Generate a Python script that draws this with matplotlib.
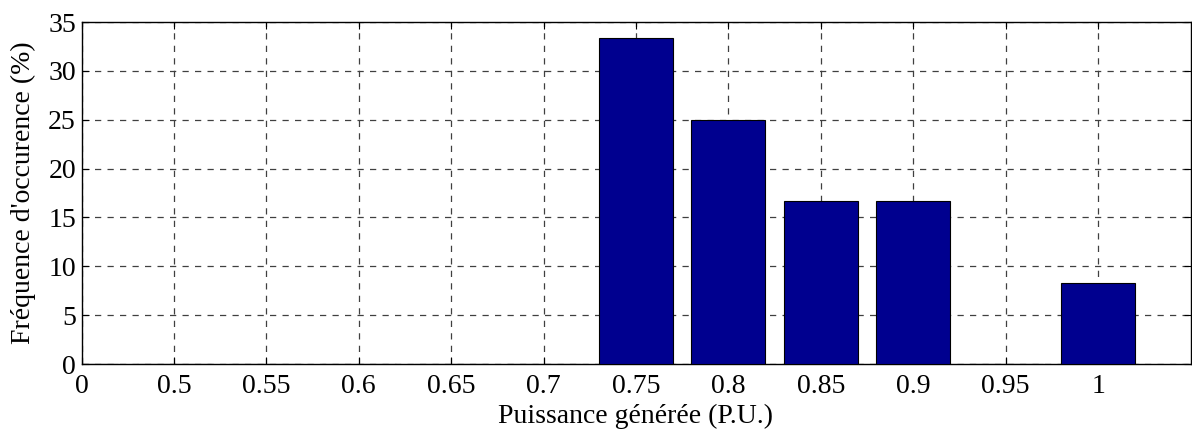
import matplotlib
matplotlib.use("Agg")
import matplotlib.pyplot as plt
import numpy as np

# Categories (tick labels) and occurrence frequency (%)
categories = ['0', '0.5', '0.55', '0.6', '0.65', '0.7', '0.75', '0.8', '0.85', '0.9', '0.95', '1']
frequency = [0, 0, 0, 0, 0, 0, 33.33, 25.0, 16.67, 16.67, 0, 8.33]

plt.rcParams['font.family'] = ['Liberation Serif', 'DejaVu Serif']
plt.rcParams['font.size'] = 20

fig = plt.figure(figsize=(11.92, 4.33), dpi=100)
ax = fig.add_axes([81.5 / 1192, (433 - 364) / 433, (1190.5 - 81.5) / 1192, (364 - 22) / 433])

pos = np.arange(len(categories))
ax.bar(pos, frequency, width=0.8, color='#00008f', edgecolor='black', linewidth=0.8, zorder=3)

ax.set_xlim(0, 12)
ax.set_ylim(0, 35)
ax.set_xticks(pos)
ax.set_xticklabels(categories)
ax.set_yticks(np.arange(0, 36, 5))

# MATLAB-like grid behind the bars
ax.grid(True, color='#404040', linestyle=(0, (5, 5)), linewidth=0.9, zorder=0)
ax.set_axisbelow(True)

ax.tick_params(direction='in', length=5, width=0.8, top=True, right=True)
ax.tick_params(axis='x', pad=7)
ax.tick_params(axis='y', pad=4)
for sp in ax.spines.values():
    sp.set_linewidth(1.0)

ax.set_xlabel('Puissance générée (P.U.)', labelpad=4)
ax.set_ylabel("Fréquence d'occurence (%)", labelpad=9)

plt.savefig('out.png', dpi=100)
plt.clf()
